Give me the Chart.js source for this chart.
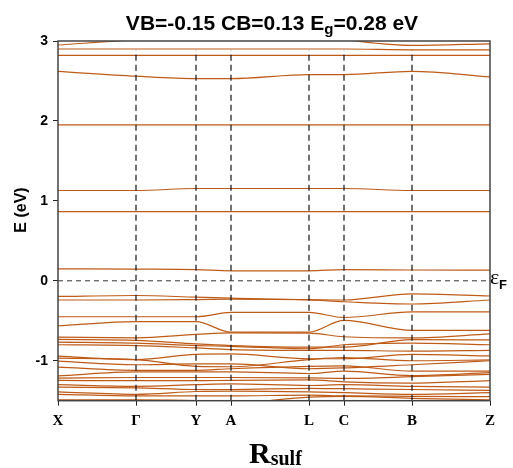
<!DOCTYPE html>
<html>
<head>
<meta charset="utf-8">
<script src="https://cdn.jsdelivr.net/npm/chart.js@4.4.0/dist/chart.umd.min.js"></script>
<style>
html,body{margin:0;padding:0;background:#fff}
</style>
</head>
<body>
<canvas id="bands" width="513" height="468"></canvas>
<script>
// k-path (distance along path) and labels
const kPoints = [0, 78, 138, 173, 251, 286, 354, 432];
const kLabels = ["X", "Γ", "Y", "A", "L", "C", "B", "Z"];
const yTicks = [-1, 0, 1, 2, 3];

// band energies (eV) at X, Γ, Y, A, L, C, B, Z
const conduction = [
    [2.95, 3.02, 3.1, 3.1, 3.1, 3.02, 2.945, 2.965],
    [2.9, 2.9, 2.9, 2.9, 2.9, 2.9, 2.89, 2.89],
    [2.82, 2.82, 2.82, 2.82, 2.82, 2.82, 2.82, 2.82],
    [2.62, 2.56, 2.53, 2.53, 2.58, 2.58, 2.62, 2.55],
    [1.95, 1.95, 1.95, 1.95, 1.95, 1.95, 1.95, 1.95],
    [1.13, 1.13, 1.155, 1.155, 1.155, 1.155, 1.13, 1.13],
    [0.866, 0.866, 0.866, 0.866, 0.866, 0.866, 0.866, 0.866],
    [0.15, 0.146, 0.14, 0.125, 0.125, 0.14, 0.135, 0.133]
];
const valence = [
    [-0.196, -0.184, -0.205, -0.217, -0.24, -0.262, -0.29, -0.24],
    [-0.24, -0.24, -0.235, -0.23, -0.235, -0.24, -0.163, -0.19],
    [-0.45, -0.45, -0.45, -0.396, -0.396, -0.459, -0.39, -0.39],
    [-0.5625, -0.51, -0.51, -0.642, -0.642, -0.496, -0.621, -0.621],
    [-0.705, -0.713, -0.671, -0.652, -0.655, -0.70, -0.715, -0.665],
    [-0.734, -0.745, -0.79, -0.81, -0.83, -0.83, -0.735, -0.74],
    [-0.767, -0.78, -0.81, -0.82, -0.85, -0.80, -0.78, -0.80],
    [-0.80, -0.81, -0.84, -0.86, -0.87, -0.87, -0.88, -0.87],
    [-0.943, -0.985, -0.92, -0.915, -0.975, -0.975, -0.92, -0.94],
    [-0.968, -0.985, -1.07, -1.075, -0.985, -0.96, -1.00, -0.99],
    [-1.005, -1.05, -1.04, -1.04, -1.10, -1.09, -1.05, -1.00],
    [-1.08, -1.12, -1.12, -1.10, -1.07, -1.065, -1.13, -1.13],
    [-1.19, -1.14, -1.14, -1.14, -1.16, -1.13, -1.185, -1.15],
    [-1.218, -1.21, -1.21, -1.21, -1.215, -1.22, -1.20, -1.17],
    [-1.246, -1.25, -1.25, -1.245, -1.24, -1.265, -1.28, -1.25],
    [-1.30, -1.32, -1.30, -1.29, -1.31, -1.30, -1.32, -1.33],
    [-1.33, -1.34, -1.36, -1.36, -1.345, -1.35, -1.36, -1.37],
    [-1.39, -1.42, -1.385, -1.38, -1.39, -1.40, -1.42, -1.40],
    [-1.42, -1.44, -1.44, -1.44, -1.43, -1.44, -1.445, -1.45],
    [-1.49, -1.49, -1.50, -1.53, -1.455, -1.445, -1.47, -1.49]
];

const eMin = -1.5, eMax = 3;
const bandColor = "#BF5B17";

let datasets = [];
// fermi level
datasets.push({
    data: [{x: kPoints[0], y: 0}, {x: kPoints[kPoints.length-1], y: 0}],
    borderColor: "#333", borderWidth: 1, borderDash: [5, 4], tension: 0
});
// high symmetry verticals
kPoints.slice(1, -1).forEach(k => {
    datasets.push({
        data: [{x: k, y: eMin}, {x: k, y: 2.88}],
        borderColor: "#111", borderWidth: 1.2, borderDash: [6, 4], tension: 0
    });
});
conduction.concat(valence).forEach(band => {
    datasets.push({
        data: band.map((e, i) => ({x: kPoints[i], y: e})),
        borderColor: bandColor, borderWidth: 1.2,
        cubicInterpolationMode: "monotone"
    });
});

const frame = {
    id: "frame",
    afterDatasetsDraw(chart){
        const a = chart.chartArea, c = chart.ctx;
        c.save();
        c.strokeStyle = "#444";
        c.lineWidth = 1.5;
        c.strokeRect(a.left, a.top, a.right - a.left, a.bottom - a.top);
        c.restore();
    }
};

const texts = {
    id: "texts",
    afterDraw(chart){
        const c = chart.ctx;
        c.save();
        c.fillStyle = "#000";
        c.textBaseline = "alphabetic";
        c.textAlign = "left";
        // title
        const big = "bold 21px 'Liberation Sans'", small = "bold 15px 'Liberation Sans'";
        const p1 = "VB=-0.15 CB=0.13 E", p2 = "g", p3 = "=0.28 eV";
        c.font = big; const w1 = c.measureText(p1).width, w3 = c.measureText(p3).width;
        c.font = small; const w2 = c.measureText(p2).width;
        let x = 272 - (w1 + w2 + w3) / 2;
        c.font = big; c.fillText(p1, x, 30); x += w1;
        c.font = small; c.fillText(p2, x, 34); x += w2;
        c.font = big; c.fillText(p3, x, 30);
        // y axis title
        c.save();
        c.translate(26, 210);
        c.rotate(-Math.PI / 2);
        c.textAlign = "center";
        c.font = "bold 16px 'Liberation Sans'";
        c.fillText("E (eV)", 0, 0);
        c.restore();
        // x axis title
        c.font = "bold 30px 'Liberation Serif'";
        c.fillText("R", 249, 463);
        const wr = c.measureText("R").width;
        c.font = "bold 20px 'Liberation Serif'";
        c.fillText("sulf", 249 + wr, 465);
        // fermi label
        c.font = "22px 'Liberation Serif'";
        c.fillText("ε", 490, 284);
        c.font = "bold 13px 'Liberation Sans'";
        c.fillText("F", 499, 289);
        c.restore();
    }
};

new Chart(document.getElementById("bands").getContext("2d"), {
    type: "line",
    data: {datasets: datasets},
    options: {
        responsive: false,
        animation: false,
        layout: {padding: {left: 0, right: 23, top: 41, bottom: 0}},
        plugins: {legend: {display: false}, tooltip: {enabled: false}},
        elements: {point: {radius: 0}},
        scales: {
            x: {
                type: "linear", min: kPoints[0], max: kPoints[kPoints.length-1],
                afterBuildTicks: s => { s.ticks = kPoints.map(v => ({value: v})); },
                afterFit: s => { s.height = 67.3; },
                grid: {drawOnChartArea: false, drawTicks: true, tickLength: 5, color: "#222"},
                border: {display: false},
                ticks: {
                    callback: v => kLabels[kPoints.indexOf(v)],
                    font: {family: "Liberation Serif", weight: "bold", size: 15},
                    color: "#000", padding: 6, maxRotation: 0, autoSkip: false
                }
            },
            y: {
                min: eMin, max: eMax,
                afterBuildTicks: s => { s.ticks = yTicks.map(v => ({value: v})); },
                afterFit: s => { s.width = 58; },
                grid: {drawOnChartArea: false, drawTicks: true, tickLength: 5, color: "#222"},
                border: {display: false},
                ticks: {
                    font: {family: "Liberation Sans", weight: "bold", size: 14},
                    color: "#000", padding: 5
                }
            }
        }
    },
    plugins: [frame, texts]
});
</script>
</body>
</html>
